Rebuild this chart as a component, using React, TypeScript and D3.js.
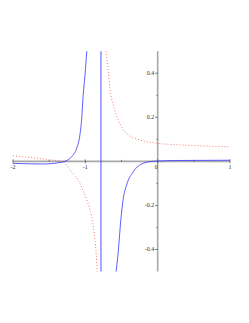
import React from 'react'
import { scaleLinear, line, curveMonotoneX } from 'd3'

// values
const blueLeftX = [-2, -1.58, -1.35, -1.28, -1.19, -1.12, -1.075, -1.05, -1.03, -1.005, -0.98]
const blueLeftY = [-0.009, -0.012, -0.005, 0, 0.021, 0.059, 0.12, 0.195, 0.3, 0.39, 0.5]
const blueRightX = [-0.575, -0.545, -0.512, -0.475, -0.43, -0.337, -0.2, -0.037, 0.3, 1]
const blueRightY = [-0.5, -0.41, -0.275, -0.168, -0.108, -0.047, -0.009, 0.001, 0.004, 0.005]
const blueJumpX = [-0.784, -0.784]
const blueJumpY = [-0.5, 0.5]
const redLeftX = [-2, -1.77, -1.54, -1.31, -1.21, -1.075, -0.98, -0.913, -0.877, -0.853, -0.835]
const redLeftY = [0.025, 0.018, 0.009, -0.002, -0.04, -0.1, -0.176, -0.25, -0.327, -0.403, -0.5]
const redRightX = [-0.715, -0.683, -0.66, -0.614, -0.545, -0.43, -0.245, 0, 0.35, 1]
const redRightY = [0.5, 0.41, 0.33, 0.256, 0.188, 0.127, 0.097, 0.082, 0.074, 0.066]

const xTicks = [-2, -1, 0, 1]
const xMinor = [-1.5, -0.5, 0.5]
const yTicks = [-0.4, -0.2, 0.2, 0.4]
const yMinor = [-0.3, -0.1, 0.1, 0.3]

export default function App() {
  const width = 249, height = 323
  const x = scaleLinear().domain([-2, 1]).range([13, 230])
  const y = scaleLinear().domain([-0.5, 0.5]).range([271.5, 51.2])

  const path = (xs: number[], ys: number[], smooth = true) => {
    const gen = line<number>().x((d, i) => x(xs[i])).y((d, i) => y(ys[i]))
    if (smooth) gen.curve(curveMonotoneX)
    return gen(xs) || ''
  }

  return (
    <svg width={width} height={height} style={{ position: 'absolute', left: 0, top: 0, background: '#fff' }}>
      {/* axes */}
      <line x1={x(-2)} x2={x(1)} y1={y(0)} y2={y(0)} stroke="#a8a8a8" strokeWidth={1.6} />
      <line x1={x(0)} x2={x(0)} y1={y(-0.5)} y2={y(0.5)} stroke="#a8a8a8" strokeWidth={1.6} />
      {xTicks.map(t => (
        <g key={'xt' + t}>
          <line x1={x(t)} x2={x(t)} y1={y(0) - 2} y2={y(0) + 2} stroke="#444" strokeWidth={0.7} />
          <text x={x(t) - (t === 0 ? 1.5 : 0)} y={y(0) + 8} fontSize={6} fontFamily="Liberation Serif" textAnchor="middle" fill="#333">{t === 0 ? '0' : t}</text>
        </g>
      ))}
      {xMinor.map(t => (
        <line key={'xm' + t} x1={x(t)} x2={x(t)} y1={y(0) - 1.5} y2={y(0) + 0.5} stroke="#444" strokeWidth={0.6} />
      ))}
      {yTicks.map(t => (
        <g key={'yt' + t}>
          <line x1={x(0) - 2.5} x2={x(0)} y1={y(t)} y2={y(t)} stroke="#444" strokeWidth={0.7} />
          <text x={x(0) - 3.5} y={y(t) + 2} fontSize={6} fontFamily="Liberation Serif" textAnchor="end" fill="#333">{t}</text>
        </g>
      ))}
      {yMinor.map(t => (
        <line key={'ym' + t} x1={x(0) - 1.5} x2={x(0)} y1={y(t)} y2={y(t)} stroke="#444" strokeWidth={0.6} />
      ))}

      {/* red dotted curve */}
      <path d={path(redLeftX, redLeftY)} fill="none" stroke="#ff3030" strokeWidth={1} strokeDasharray="1,2" opacity={0.65} />
      <path d={path(redRightX, redRightY)} fill="none" stroke="#ff3030" strokeWidth={1} strokeDasharray="1,2" opacity={0.65} />

      {/* blue curve */}
      <path d={path(blueLeftX, blueLeftY)} fill="none" stroke="#2a2aff" strokeWidth={1} opacity={0.75} />
      <path d={path(blueJumpX, blueJumpY, false)} fill="none" stroke="#2a2aff" strokeWidth={1.5} opacity={0.55} />
      <path d={path(blueRightX, blueRightY)} fill="none" stroke="#2a2aff" strokeWidth={1} opacity={0.75} />
    </svg>
  )
}
